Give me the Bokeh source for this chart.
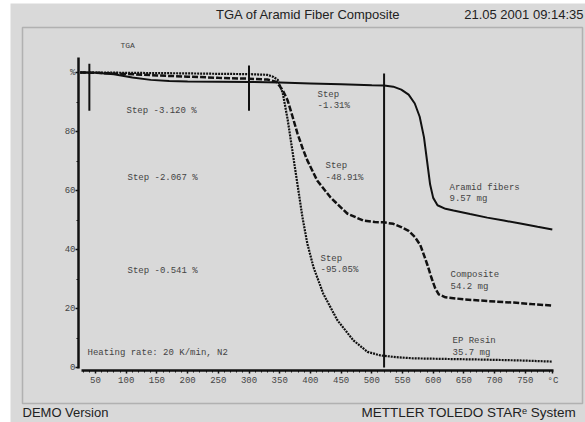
from bokeh.plotting import figure
from bokeh.models import Range1d, LinearAxis, FixedTicker, BoxAnnotation, Label
from bokeh.embed import file_html
from bokeh.resources import INLINE

# ---------------- data (temperature in degC, mass in %) ----------------
aramid_T = [25, 50, 80, 110, 140, 170, 200, 250, 300, 350, 400, 450, 500, 520,
            535, 548, 560, 570, 578, 585, 590, 595, 600, 607, 620, 633, 660,
            688, 715, 742, 770, 794]
aramid_pct = [100, 99.9, 99.4, 98.3, 97.5, 97.1, 96.95, 96.9, 96.8, 96.6, 96.3,
              96.0, 95.7, 95.6, 95.2, 94.2, 92.5, 89.5, 85, 78, 70, 62, 57.5,
              55, 53.8, 53.2, 52, 50.8, 49.8, 48.8, 47.7, 46.8]

composite_T = [25, 50, 100, 150, 200, 250, 300, 330, 345, 355, 363, 371, 379,
               387, 395, 411, 433, 460, 486, 505, 519, 535, 548, 560, 570, 579,
               586, 591, 597, 603, 609, 620, 650, 677, 704, 731, 760, 794]
composite_pct = [100, 99.9, 99.5, 99.0, 98.6, 98.2, 97.9, 97.6, 96.8, 94, 90.5,
                 85, 79.3, 74.5, 70.2, 63.4, 57.6, 52.2, 49.8, 49.3, 49.2, 48.7,
                 47.6, 46.3, 44.3, 41.5, 37.5, 34.5, 30.5, 27, 24.8, 23.8, 23.1,
                 22.7, 22.3, 22.0, 21.5, 21.0]

resin_T = [25, 50, 100, 150, 200, 250, 300, 330, 340, 347, 355, 363, 371, 379,
           387, 395, 405, 421, 444, 470, 493, 514, 540, 568, 620, 677, 740, 794]
resin_pct = [100, 100, 99.9, 99.8, 99.7, 99.55, 99.45, 99.2, 98.5, 97.5, 93,
             84, 73, 62, 51, 42, 34, 25, 16, 9.2, 5.3, 4.1, 3.5, 3.1, 2.9, 2.7,
             2.4, 2.0]

# evaluation limits (vertical marker lines)
marker_T = [40, 300, 520]
marker_top = [103, 102.4, 99.7]
marker_bottom = [87, 87, 0]

x_ticks = [50, 100, 150, 200, 250, 300, 350, 400, 450, 500, 550, 600, 650, 700, 750]
x_unit_tick = 795
y_ticks = [0, 20, 40, 60, 80, 100]

title_text = "TGA of Aramid Fiber Composite"
date_text = "21.05 2001 09:14:35"
footer_left = "DEMO Version"
footer_right = "METTLER  TOLEDO  STAR\u1d49 System"

# text annotations: (text, ref-x, ref-y, size)
inner_texts = [
    ("TGA", 120, 45, "8px"),
    ("Step -3.120 %", 126, 110, "9px"),
    ("Step -2.067 %", 127, 177, "9px"),
    ("Step -0.541 %", 127, 270, "9px"),
    ("Heating rate: 20 K/min, N2", 87, 352, "9px"),
    ("Step", 317, 94, "9px"), ("-1.31%", 317, 105, "9px"),
    ("Step", 325, 165, "9px"), ("-48.91%", 325, 177, "9px"),
    ("Step", 320, 258, "9px"), ("-95.05%", 320, 269, "9px"),
    ("Aramid fibers", 449, 187, "9px"), ("9.57 mg", 449, 198, "9px"),
    ("Composite", 450, 274, "9px"), ("54.2 mg", 450, 286, "9px"),
    ("EP Resin", 452, 340, "9px"), ("35.7 mg", 452, 352, "9px"),
]

# ---------------- layout helpers (page pixel -> data) ----------------
W, H = 585, 422

def tx(x):
    return (x - 95) / 0.614 + 50

def py(y):
    return (367 - y) / 2.95

BG = "#d9d9d9"
INK = "#111111"
TXT = "#444444"
MONO = "Liberation Mono"
SANS = "Liberation Sans"

p = figure(width=W, height=H,
           x_range=Range1d(tx(0), tx(W)), y_range=Range1d(py(H), py(0)),
           x_axis_type=None, y_axis_type=None,
           output_backend="svg", toolbar_location=None, min_border=0,
           background_fill_color="white", border_fill_color="white",
           outline_line_color=None)
p.xgrid.visible = False
p.ygrid.visible = False

# grey page area (white strip at left/top as in the screenshot)
p.add_layout(BoxAnnotation(left=tx(10), right=tx(W + 5), top=py(3), bottom=py(H + 5),
                           fill_color=BG, fill_alpha=1, line_color=None,
                           level="underlay"))
# outer frame
p.add_layout(BoxAnnotation(left=tx(22), right=tx(582), top=py(27), bottom=py(403),
                           fill_alpha=0, line_color="#555555", line_width=1.5))

# axes
xaxis = LinearAxis(fixed_location=py(370), bounds=(tx(81), tx(553)),
                   ticker=FixedTicker(ticks=x_ticks + [x_unit_tick],
                                      minor_ticks=list(range(30, 800, 10))),
                   major_label_overrides={x_unit_tick: "\u00b0C"})
yaxis = LinearAxis(fixed_location=tx(78), bounds=(py(368), py(57)),
                   ticker=FixedTicker(ticks=y_ticks, minor_ticks=[10, 30, 50, 70, 90]),
                   major_label_overrides={100: "%"})
for ax in (xaxis, yaxis):
    ax.axis_line_width = 2.5
    ax.axis_line_color = INK
    ax.major_tick_in = 0
    ax.major_tick_out = 3
    ax.minor_tick_in = 0
    ax.minor_tick_out = 2
    ax.major_tick_line_width = 1.5
    ax.major_tick_line_color = INK
    ax.minor_tick_line_color = INK
    ax.major_label_text_font = MONO
    ax.major_label_text_font_size = "9px"
    ax.major_label_text_color = TXT
xaxis.major_label_standoff = 2
yaxis.major_label_standoff = 0
p.add_layout(xaxis, "below")
p.add_layout(yaxis, "left")

# curves
p.line(aramid_T, aramid_pct, line_color=INK, line_width=2)
p.line(composite_T, composite_pct, line_color=INK, line_width=2.5, line_dash="6 2")
p.line(resin_T, resin_pct, line_color=INK, line_width=2.2, line_dash="2 1")

# evaluation limit lines
p.segment(x0=marker_T, y0=marker_bottom, x1=marker_T, y1=marker_top,
          line_color=INK, line_width=2)

# texts
p.add_layout(Label(x=tx(308), y=py(14), text=title_text, text_font=SANS,
                   text_font_size="13px", text_color="#222222",
                   text_align="center", text_baseline="middle"))
p.add_layout(Label(x=tx(583), y=py(14), text=date_text, text_font=SANS,
                   text_font_size="13px", text_color="#222222",
                   text_align="right", text_baseline="middle"))
p.add_layout(Label(x=tx(22), y=py(412), text=footer_left, text_font=SANS,
                   text_font_size="13px", text_color="#222222",
                   text_align="left", text_baseline="middle"))
p.add_layout(Label(x=tx(583), y=py(412), text=footer_right, text_font=SANS,
                   text_font_size="13.5px", text_color="#222222",
                   text_align="right", text_baseline="middle"))
for t, x, y, s in inner_texts:
    p.add_layout(Label(x=tx(x), y=py(y), text=t, text_font=MONO,
                       text_font_size=s, text_color=TXT,
                       text_align="left", text_baseline="middle"))

open("out.html", "w").write(file_html(p, INLINE))
